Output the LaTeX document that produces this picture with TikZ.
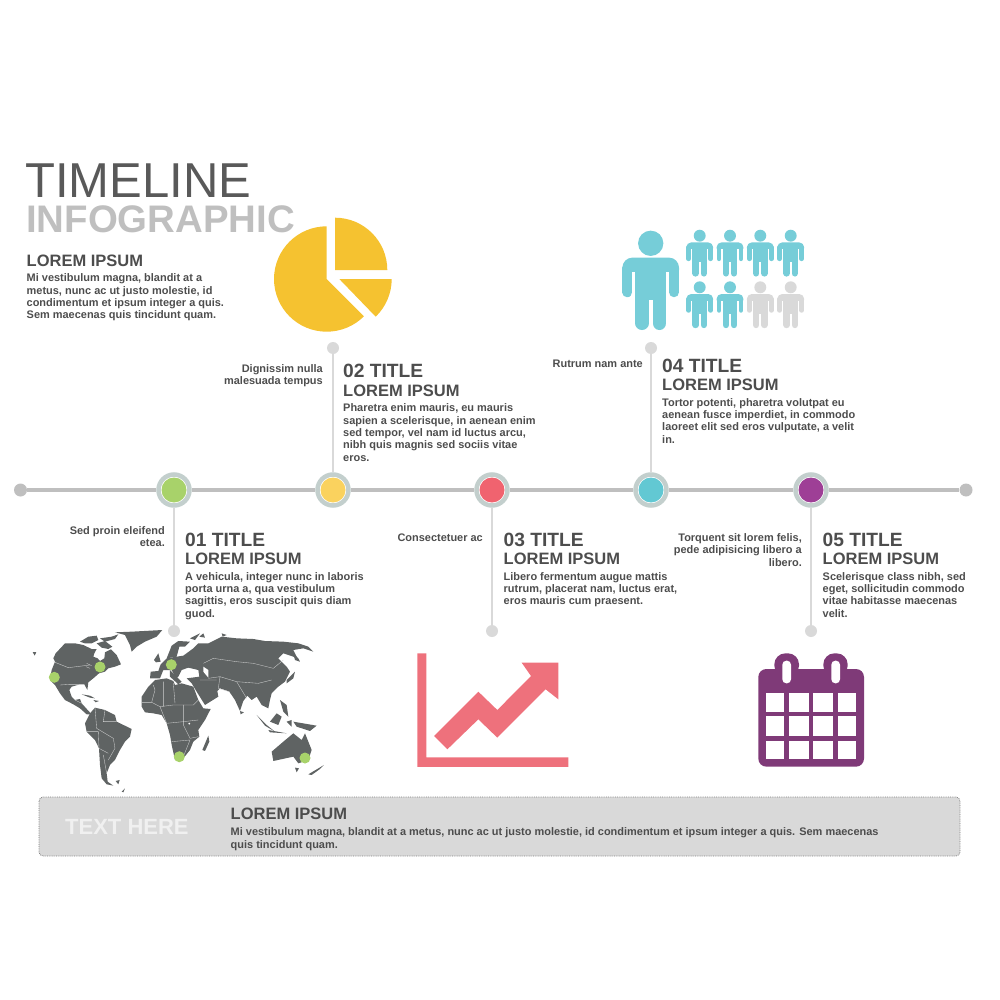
\documentclass[tikz,border=0pt]{standalone}
\usepackage{fontspec}
\setmainfont{Liberation Sans}
\usetikzlibrary{positioning}
\definecolor{txtdark}{HTML}{4D4D4D}
\definecolor{txttitle}{HTML}{595959}
\definecolor{txtlight}{HTML}{BFBFBF}
\definecolor{axisgrey}{HTML}{BFBFBF}
\definecolor{stemgrey}{HTML}{D9D9D9}
\definecolor{ringgrey}{HTML}{C3CFCD}
\definecolor{dotgreen}{HTML}{A8D26A}
\definecolor{dotyellow}{HTML}{FAD25E}
\definecolor{dotred}{HTML}{F0636F}
\definecolor{dotcyan}{HTML}{62C8D3}
\definecolor{dotpurple}{HTML}{9E3F96}
\definecolor{piecol}{HTML}{F5C230}
\definecolor{personcol}{HTML}{76CDD8}
\definecolor{chartcol}{HTML}{EE717C}
\definecolor{calcol}{HTML}{7F3A78}
\definecolor{mapcol}{HTML}{5F6363}
\definecolor{boxgrey}{HTML}{D9D9D9}
\tikzset{
  endnode/.style={circle, fill=axisgrey, inner sep=0, minimum size=13pt},
  tipnode/.style={circle, fill=stemgrey, inner sep=0, minimum size=12pt},
  ringnode/.style={circle, draw=ringgrey, line width=4.5pt, fill=white, inner sep=0, minimum size=31pt},
  fillnode/.style={circle, fill=#1, inner sep=0, minimum size=25pt},
  pinnode/.style={circle, fill=dotgreen, inner sep=0, minimum size=11pt},
  axisline/.style={draw=axisgrey, line width=3.2pt},
  stemline/.style={draw=stemgrey, line width=2.5pt},
  headtext/.style={font=\fontsize{19.2}{22}\selectfont\bfseries, text=txtdark, anchor=west, inner sep=0},
  subtext/.style={font=\fontsize{16.5}{19}\selectfont\bfseries, text=txtdark, anchor=west, inner sep=0},
  bodytext/.style={font=\fontsize{10.96}{12.4}\selectfont\bfseries, text=txtdark, align=left, anchor=north west, inner sep=0},
  sidetext/.style={font=\fontsize{10.96}{12.1}\selectfont\bfseries, text=txtdark, align=right, anchor=north east, inner sep=0},
  mapborder/.style={draw=white!70!mapcol, line width=0.35pt}
}
\newcommand{\personicon}[4]{%
  \begin{scope}[shift={(#1,#2)}, x=#3pt, y=-#3pt]
    \fill[#4] (0,0) circle[radius=38*#3pt];
    \fill[#4, rounded corners=30*#3pt] (-85,43) rectangle (85,110);
    \fill[#4] (-47,60) rectangle (47,170);
    \draw[#4, line width=30*#3pt, line cap=round] (-70,75) -- (-70,147);
    \draw[#4, line width=30*#3pt, line cap=round] (70,75) -- (70,147);
    \fill[white] (-55,85) rectangle (-47,170);
    \fill[white] (47,85) rectangle (55,170);
    \draw[#4, line width=41*#3pt, line cap=round] (-26,150) -- (-26,240);
    \draw[#4, line width=41*#3pt, line cap=round] (26,150) -- (26,240);
  \end{scope}}
\begin{document}
\begin{tikzpicture}[x=1pt, y=-1pt]
\useasboundingbox (0,0) rectangle (1000,1000);
% heading
\node[font=\fontsize{49}{54}\selectfont, text=txttitle, anchor=base west, inner sep=0] (maintitle) at (25,198) {TIMELINE};
\node[font=\fontsize{38.4}{42}\selectfont\bfseries, text=txtlight, anchor=base west, inner sep=0] (subtitle) at (26,232.5) {INFOGRAPHIC};
\node[subtext] (introhead) at (26.5,261) {LOREM IPSUM};
\node[bodytext] (introbody) at (26.5,273.5) {Mi vestibulum magna, blandit at a\\metus, nunc ac ut justo molestie, id\\condimentum et ipsum integer a quis.\\Sem maecenas quis tincidunt quam.};
% timeline
\node[endnode] (start) at (20.5,490) {};
\node[endnode] (stop) at (966,490) {};
\foreach \i/\x/\col in {1/174/dotgreen, 2/333/dotyellow, 3/492/dotred, 4/651/dotcyan, 5/811/dotpurple}{
  \node[ringnode] (d\i) at (\x,490) {};
  \node[fillnode=\col] (f\i) at (\x,490) {};
}
\draw[axisline] (start) -- (d1);
\draw[axisline] (d1) -- (d2);
\draw[axisline] (d2) -- (d3);
\draw[axisline] (d3) -- (d4);
\draw[axisline] (d4) -- (d5);
\draw[axisline] (d5) -- (stop);
\node[tipnode] (t1) at (174,631) {};
\node[tipnode] (t2) at (333,348) {};
\node[tipnode] (t3) at (492,631) {};
\node[tipnode] (t4) at (651,348) {};
\node[tipnode] (t5) at (811,631) {};
\foreach \i in {1,...,5}
  \draw[stemline] (d\i) -- (t\i);
% step texts
\node[headtext] (h1) at (185,540) {01 TITLE};
\node[subtext] (s1) at (185,559) {LOREM IPSUM};
\node[bodytext] (b1) at (185,572) {A vehicula, integer nunc in laboris\\porta urna a, qua vestibulum\\sagittis, eros suscipit quis diam\\guod.};
\node[sidetext] (l1) at (165,526.3) {Sed proin eleifend\hspace{3pt}\\etea.};
\node[headtext] (h2) at (343,371) {02 TITLE};
\node[subtext] (s2) at (343,391) {LOREM IPSUM};
\node[bodytext] (b2) at (343,403.5) {Pharetra enim mauris, eu mauris\\sapien a scelerisque, in aenean enim\\sed tempor, vel nam id luctus arcu,\\nibh quis magnis sed sociis vitae\\eros.};
\node[sidetext] (l2) at (323,364.3) {Dignissim nulla\hspace{3pt}\\malesuada tempus};
\node[headtext] (h3) at (503.5,540) {03 TITLE};
\node[subtext] (s3) at (503.5,559) {LOREM IPSUM};
\node[bodytext] (b3) at (503.5,572) {Libero fermentum augue mattis\\rutrum, placerat nam, luctus erat,\\eros mauris cum praesent.};
\node[sidetext] (l3) at (483,533.7) {Consectetuer ac};
\node[headtext] (h4) at (662,366) {04 TITLE};
\node[subtext] (s4) at (662,385) {LOREM IPSUM};
\node[bodytext] (b4) at (662,398) {Tortor potenti, pharetra volutpat eu\\aenean fusce imperdiet, in commodo\\laoreet elit sed eros vulputate, a velit\\in.};
\node[sidetext] (l4) at (643,360) {Rutrum nam ante};
\node[headtext] (h5) at (822.5,540) {05 TITLE};
\node[subtext] (s5) at (822.5,559) {LOREM IPSUM};
\node[bodytext] (b5) at (822.5,572) {Scelerisque class nibh, sed\\eget, sollicitudin commodo\\vitae habitasse maecenas\\velit.};
\node[sidetext] (l5) at (802,533.7) {Torquent sit lorem felis,\hspace{3pt}\\pede adipisicing libero a\hspace{3pt}\\libero.};
% pie
\fill[piecol] (326.7,279) -- (326.7,226.3) arc[start angle=90, end angle=315, radius=52.7pt] -- cycle;
\fill[piecol] (335,270) -- (335,217.7) arc[start angle=90, end angle=0, radius=52.3pt] -- cycle;
\fill[piecol] (339.3,279) -- (391.7,279) arc[start angle=0, end angle=-46, radius=52.4pt] -- cycle;
% people
\personicon{650.7}{243.3}{0.333}{personcol}
\foreach \x in {699.7,730,760.3,790.7}{
  \personicon{\x}{235.7}{0.157}{personcol}
}
\foreach \x in {699.7,730}{
  \personicon{\x}{287.3}{0.157}{personcol}
}
\foreach \x in {760.3,790.7}{
  \personicon{\x}{287.3}{0.157}{stemgrey}
}
% chart
\begin{scope}[shift={(400,640)}, x=0.3333pt, y=-0.3333pt]
  \fill[chartcol] (52,40) -- (79,40) -- (79,352) -- (505,352) -- (505,381) -- (52,381) -- cycle;
  \fill[chartcol] (102,288) -- (235,155) -- (292,210) -- (393,108) -- (365,68) -- (475,68) -- (475,178) -- (437,148) -- (292,293) -- (235,238) -- (142,328) -- cycle;
\end{scope}
% calendar
\begin{scope}[shift={(740,640)}, x=0.3333pt, y=-0.3333pt]
  \fill[calcol, rounded corners=8pt] (55,87) rectangle (372,380);
  \fill[calcol, rounded corners=11pt] (103,40) rectangle (177,110);
  \fill[calcol, rounded corners=11pt] (250,40) rectangle (323,110);
  \fill[white, rounded corners=4pt] (127,62) rectangle (153,130);
  \fill[white, rounded corners=4pt] (274,62) rectangle (300,130);
  \foreach \xa/\xb in {78/133, 146/207, 219/280, 293/348}{
    \foreach \ya/\yb in {160/215, 228/288, 302/356}{
      \fill[white] (\xa,\ya) rectangle (\xb,\yb);
    }
  }
\end{scope}
% world map, west part
\begin{scope}[shift={(25,625)}, x=0.3333pt, y=-0.3333pt]
  \fill[mapcol] (92,85) -- (120,55) -- (150,55) -- (175,60) -- (200,72) -- (215,72) -- (208,85) -- (205,95) -- (218,100) -- (225,108) -- (238,100) -- (240,82) -- (258,73) -- (275,90) -- (288,118) -- (270,125) -- (250,130) -- (240,140) -- (222,145) -- (205,160) -- (190,172) -- (187,195) -- (178,178) -- (165,178) -- (140,185) -- (133,195) -- (140,215) -- (150,225) -- (165,222) -- (170,235) -- (188,255) -- (200,268) -- (185,268) -- (165,250) -- (145,238) -- (120,225) -- (105,205) -- (90,180) -- (75,165) -- (80,135) -- (90,110) -- (85,100) -- cycle;
  \fill[mapcol] (165,50) -- (190,35) -- (215,32) -- (220,45) -- (200,55) -- (180,55) -- cycle;
  \fill[mapcol] (225,40) -- (260,35) -- (280,28) -- (270,42) -- (240,50) -- cycle;
  \fill[mapcol] (215,55) -- (240,48) -- (262,65) -- (250,72) -- (230,68) -- cycle;
  \fill[mapcol] (270,22) -- (320,20) -- (412,15) -- (395,35) -- (360,50) -- (335,65) -- (320,80) -- (315,60) -- (300,30) -- cycle;
  \fill[mapcol] (170,208) -- (195,212) -- (210,220) -- (195,218) -- cycle;
  \fill[mapcol] (205,225) -- (222,228) -- (212,232) -- cycle;
  \fill[mapcol] (23,81) -- (34,81) -- (29,92) -- cycle;
  \fill[mapcol] (180,295) -- (195,265) -- (210,248) -- (240,255) -- (270,270) -- (275,290) -- (320,312) -- (315,335) -- (300,350) -- (285,375) -- (270,405) -- (255,420) -- (245,445) -- (248,470) -- (265,482) -- (245,478) -- (230,460) -- (225,420) -- (222,370) -- (210,345) -- (185,320) -- cycle;
  \fill[mapcol] (272,468) -- (284,465) -- (280,478) -- cycle;
  \fill[mapcol] (290,500) -- (300,490) -- (295,502) -- cycle;
  \draw[mapborder] (105,180) -- (135,178) -- (165,178) (85,110) -- (130,128) -- (195,120) (150,225) -- (170,235);
  \draw[mapborder] (183,125) -- (195,130) (185,115) -- (200,122);
  \draw[mapborder] (210,248) -- (215,310) -- (265,340) -- (270,370) -- (250,405) (185,320) -- (220,320) -- (222,370) -- (250,385) (240,255) -- (235,290) -- (275,290) (245,445) -- (235,390);
\end{scope}
% world map, east part
\begin{scope}[shift={(140,625)}, x=0.3333pt, y=-0.3333pt]
  \fill[mapcol] (5,215) -- (25,185) -- (45,165) -- (80,160) -- (100,168) -- (105,180) -- (125,175) -- (160,185) -- (175,225) -- (190,250) -- (212,252) -- (195,285) -- (175,315) -- (178,335) -- (160,350) -- (150,375) -- (130,400) -- (105,405) -- (95,360) -- (90,330) -- (80,295) -- (65,270) -- (40,265) -- (15,262) -- (5,245) -- cycle;
  \fill[mapcol] (30,160) -- (32,140) -- (55,138) -- (62,118) -- (80,100) -- (110,95) -- (130,92) -- (160,70) -- (175,55) -- (205,55) -- (225,45) -- (245,35) -- (290,40) -- (340,42) -- (375,48) -- (430,50) -- (475,55) -- (505,65) -- (520,80) -- (490,70) -- (460,75) -- (475,105) -- (460,95) -- (430,85) -- (415,100) -- (440,125) -- (450,140) -- (435,170) -- (415,185) -- (395,205) -- (390,225) -- (385,250) -- (365,240) -- (350,215) -- (335,225) -- (322,212) -- (310,228) -- (300,258) -- (285,225) -- (268,200) -- (240,190) -- (232,198) -- (235,215) -- (195,240) -- (170,200) -- (155,175) -- (140,160) -- (178,155) -- (175,135) -- (145,128) -- (125,135) -- (115,155) -- (108,160) -- (95,135) -- (70,135) -- (60,160) -- (35,160) -- cycle;
  \fill[mapcol] (80,100) -- (95,62) -- (115,48) -- (150,50) -- (135,65) -- (118,65) -- (110,95) -- cycle;
  \fill[mapcol] (90,135) -- (125,170) -- (115,178) -- (90,155) -- cycle;
  \fill[mapcol] (42,105) -- (55,85) -- (62,110) -- (48,112) -- cycle;
  \fill[mapcol] (187,375) -- (205,332) -- (208,350) -- (195,378) -- cycle;
  \fill[mapcol] (395,380) -- (430,350) -- (460,325) -- (485,345) -- (495,325) -- (515,375) -- (505,405) -- (475,415) -- (460,395) -- (400,408) -- cycle;
  \fill[mapcol] (465,428) -- (477,430) -- (470,442) -- cycle;
  \fill[mapcol] (505,448) -- (552,420) -- (540,432) -- (515,450) -- cycle;
  \fill[mapcol] (350,270) -- (380,300) -- (405,320) -- (375,302) -- cycle;
  \fill[mapcol] (390,290) -- (410,265) -- (425,275) -- (415,300) -- cycle;
  \fill[mapcol] (385,315) -- (440,325) -- (390,322) -- cycle;
  \fill[mapcol] (460,290) -- (530,302) -- (510,318) -- (470,305) -- cycle;
  \fill[mapcol] (440,290) -- (455,285) -- (455,305) -- cycle;
  \fill[mapcol] (420,225) -- (440,240) -- (445,275) -- (430,260) -- cycle;
  \fill[mapcol] (440,165) -- (465,140) -- (460,160) -- (440,175) -- cycle;
  \fill[mapcol] (460,85) -- (475,100) -- (480,110) -- (465,105) -- cycle;
  \fill[mapcol] (300,258) -- (312,262) -- (302,268) -- cycle;
  \fill[mapcol] (150,40) -- (180,25) -- (165,45) -- cycle;
  \fill[mapcol] (178,35) -- (190,25) -- (195,38) -- cycle;
  \fill[mapcol] (245,25) -- (260,30) -- (248,35) -- cycle;
  \fill[white] (190,125) -- (205,135) -- (205,158) -- (190,140) -- cycle;
  \fill[white] (148,296) circle[radius=1pt];
  \draw[mapborder] (5,232) -- (35,232) -- (45,195) -- (40,180) (35,232) -- (60,245) -- (100,240) -- (160,240) -- (175,225) (70,170) -- (70,245) (100,175) -- (105,235);
  \draw[mapborder] (60,245) -- (80,295) -- (130,290) -- (175,285) (130,240) -- (130,300) -- (150,340) -- (175,335) (95,350) -- (150,345) -- (130,395);
  \draw[mapborder] (190,115) -- (220,100) -- (290,110) -- (340,115) -- (400,130) -- (430,105) (205,160) -- (240,155) -- (290,170) -- (355,175) -- (395,165) (240,155) -- (235,190) -- (268,200) (180,165) -- (230,165) (290,170) -- (320,220);
\end{scope}
\node[pinnode] (p1) at (54.3,677.3) {};
\node[pinnode] (p2) at (100,667) {};
\node[pinnode] (p3) at (171.3,664.7) {};
\node[pinnode] (p4) at (179.3,756.7) {};
\node[pinnode] (p5) at (305,758) {};
% bottom box
\draw[fill=boxgrey, draw=gray, densely dotted, line width=0.8pt, rounded corners=4pt] (39,797) rectangle (960,856);
\node[font=\fontsize{22}{26}\selectfont\bfseries, text=white!60!boxgrey, anchor=west, inner sep=0] (texthere) at (65,827) {TEXT HERE};
\node[subtext] (boxhead) at (230.5,814) {LOREM IPSUM};
\node[bodytext] (boxbody) at (230.5,827.5) {Mi vestibulum magna, blandit at a metus, nunc ac ut justo molestie, id condimentum et ipsum integer a quis. Sem maecenas\\quis tincidunt quam.};
\end{tikzpicture}
\end{document}
